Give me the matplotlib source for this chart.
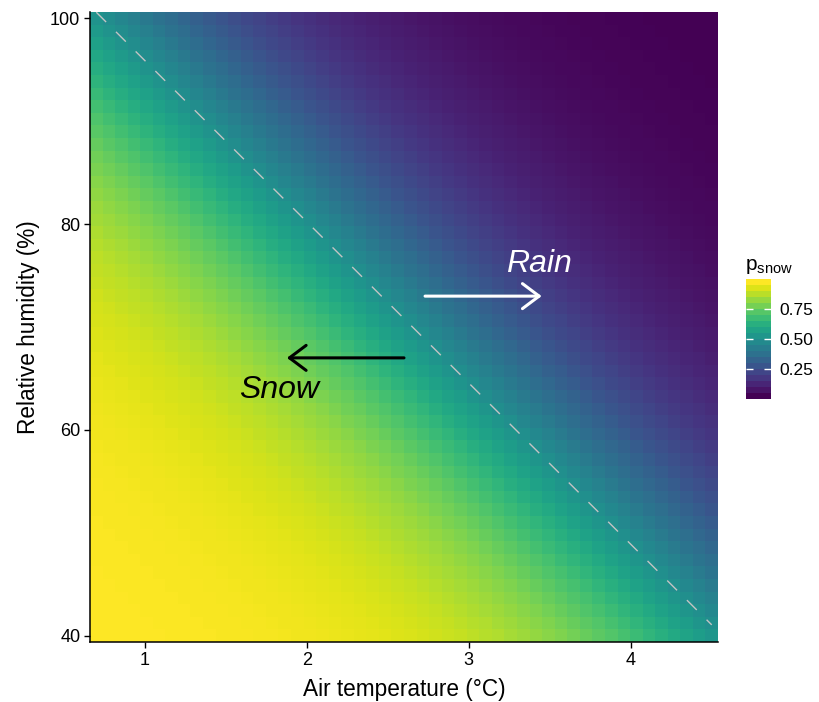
import numpy as np
import matplotlib
matplotlib.use("Agg")
import matplotlib.pyplot as plt
from matplotlib.cm import ScalarMappable
from matplotlib.colors import Normalize

plt.rcParams['font.family'] = ['Liberation Sans', 'DejaVu Sans']

# grid of air temperature (deg C) and relative humidity (%)
air_temp = np.linspace(0.7, 4.5, 50)
rel_hum = np.linspace(40, 100, 50)

# bivariate logistic model behind the surface: p = 1 / (1 + exp(a + b*T + g*RH))
alpha = -10.04
beta = 1.41
gamma = 0.09

x_ticks = [1, 2, 3, 4]
y_ticks = [40, 60, 80, 100]
cbar_ticks = [0.25, 0.50, 0.75]

T, RH = np.meshgrid(air_temp, rel_hum)
p_snow = 1 / (1 + np.exp(alpha + beta * T + gamma * RH))

fig = plt.figure(figsize=(8.19, 7.02), dpi=100)
ax = fig.add_axes([90 / 819, 1 - 642 / 702, 628 / 819, 630 / 702])

norm = Normalize(vmin=p_snow.min(), vmax=p_snow.max())
ax.pcolormesh(air_temp, rel_hum, p_snow, shading='nearest', cmap='viridis', norm=norm,
              antialiased=False, rasterized=True)

# 50 % line
ax.plot(air_temp, -(alpha + beta * air_temp) / gamma, color='#c4c4c4', lw=1.0,
        linestyle=(0, (10, 10)))

# labels and arrows
ax.annotate('', xy=(3.45, 73), xytext=(2.73, 73),
            arrowprops=dict(arrowstyle='->,head_length=0.6,head_width=0.45', color='white',
                            lw=2.2, mutation_scale=20, shrinkA=0, shrinkB=0))
ax.annotate('', xy=(1.877, 67), xytext=(2.6, 67),
            arrowprops=dict(arrowstyle='->,head_length=0.6,head_width=0.45', color='black',
                            lw=2.2, mutation_scale=20, shrinkA=0, shrinkB=0))
ax.text(3.43, 75.3, 'Rain', color='white', fontsize=23, style='italic', ha='center', va='baseline')
ax.text(1.83, 63.1, 'Snow', color='black', fontsize=23, style='italic', ha='center', va='baseline')

ax.set_xlim(air_temp[0] - (air_temp[1] - air_temp[0]) / 2, air_temp[-1] + (air_temp[1] - air_temp[0]) / 2)
ax.set_ylim(rel_hum[0] - (rel_hum[1] - rel_hum[0]) / 2, rel_hum[-1] + (rel_hum[1] - rel_hum[0]) / 2)
ax.set_xticks(x_ticks)
ax.set_yticks(y_ticks)
ax.tick_params(labelsize=13, length=4, width=1, colors='black', pad=3)
for s in ['top', 'right']:
    ax.spines[s].set_visible(False)
for s in ['left', 'bottom']:
    ax.spines[s].set_linewidth(1.1)
ax.set_xlabel('Air temperature (°C)', fontsize=16.3, labelpad=7)
ax.set_ylabel('Relative humidity (%)', fontsize=16.3, labelpad=7)

# colourbar legend
cax = fig.add_axes([746 / 819, 1 - 399 / 702, 25 / 819, 120 / 702])
sm = ScalarMappable(norm=norm, cmap=plt.get_cmap('viridis').resampled(20))
cb = fig.colorbar(sm, cax=cax, ticks=cbar_ticks)
cb.outline.set_visible(False)
cb.ax.set_yticklabels(['0.25', '0.50', '0.75'])
cb.ax.tick_params(direction='in', color='white', length=5, width=1, left=True, right=True,
                  labelleft=False, labelright=True, labelsize=12.5, pad=6)
fig.text(745 / 819, 1 - 270 / 702, r'$\mathregular{p_{snow}}$', fontsize=15, ha='left', va='baseline')

fig.savefig('out.png', dpi=100)
